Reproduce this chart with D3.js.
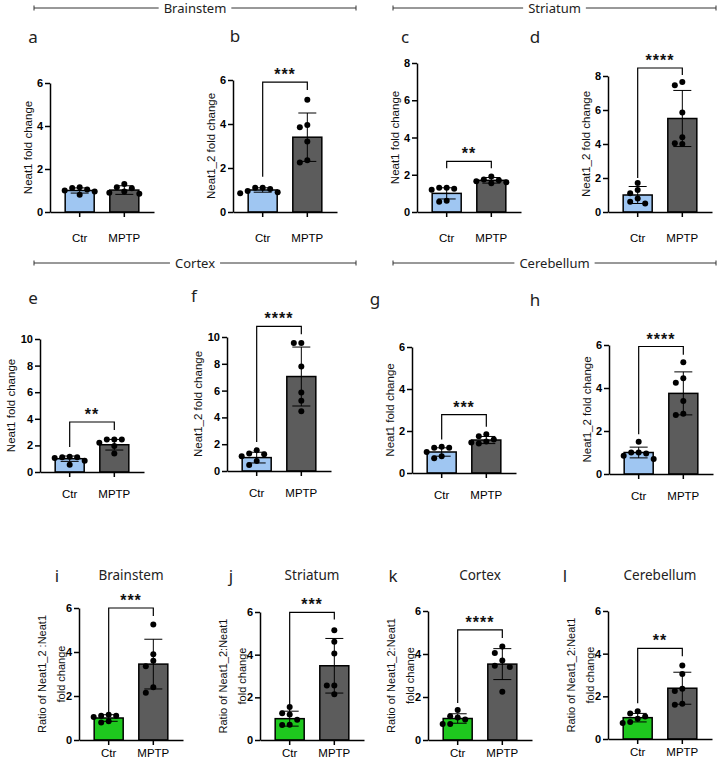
<!DOCTYPE html>
<html lang="en">
<head>
    <meta charset="UTF-8">
    <title>Neat1 / Neat1_2 fold change</title>
    <script src="https://d3js.org/d3.v7.min.js"></script>
    <style>
        body { margin: 0; background: #fff; }
        svg { display: block; }
        .head { font-family: "Noto Sans", sans-serif; }
    </style>
</head>
<body>
<div id="chart"></div>
<script>
    // ---- data ----
    const groups = ["Ctr", "MPTP"];
    const letters = ["a", "b", "c", "d", "e", "f", "g", "h", "i", "j", "k", "l"];
    const sections = ["Brainstem", "Striatum", "Cortex", "Cerebellum"];
    const ratioTitles = ["Brainstem", "Striatum", "Cortex", "Cerebellum"];
    const yTitles = [
        ["Neat1 fold change"], ["Neat1_2 fold change"], ["Neat1 fold change"], ["Neat1_2 fold change"],
        ["Neat1 fold change"], ["Neat1_2 fold change"], ["Neat1 fold change"], ["Neat1_2 fold change"],
        ["Ratio of Neat1_2 :Neat1", "fold change"], ["Ratio of Neat1_2:Neat1", "fold change"],
        ["Ratio of Neat1_2:Neat1", "fold change"], ["Ratio of Neat1_2:Neat1", "fold change"]
    ];
    const yMax = [6, 6, 8, 8, 10, 10, 6, 6, 6, 6, 6, 6];
    const yStep = 2;

    const meanCtr  = [1.0, 1.0, 1.0, 1.0, 1.0, 1.0, 1.0, 1.0, 1.0, 1.0, 1.0, 1.0];
    const sdCtr    = [0.12, 0.1, 0.3, 0.5, 0.2, 0.4, 0.2, 0.25, 0.15, 0.35, 0.22, 0.2];
    const meanMptp = [1.02, 3.4, 1.7, 5.5, 2.05, 7.05, 1.57, 3.75, 3.45, 3.48, 3.53, 2.38];
    const sdMptp   = [0.2, 1.1, 0.15, 1.65, 0.4, 2.2, 0.17, 1.0, 1.13, 1.28, 0.72, 0.75];

    const dotsCtr = [
        [1.15, 1.12, 1.0, 0.8, 0.95, 1.05],
        [1.1, 1.05, 1.1, 0.9, 0.85, 0.95],
        [1.3, 1.25, 1.3, 1.2, 0.6, 0.55],
        [1.7, 1.3, 1.1, 0.8, 0.6, 0.5],
        [1.15, 1.1, 1.1, 1.05, 0.85, 0.55],
        [1.55, 1.3, 1.25, 1.1, 0.75, 0.45],
        [1.25, 1.2, 1.2, 1.0, 0.8, 0.7],
        [1.5, 1.0, 1.0, 0.95, 0.85, 0.7],
        [1.15, 1.1, 1.1, 1.05, 0.85, 0.8],
        [1.55, 1.25, 1.2, 0.95, 0.72, 0.7],
        [1.4, 1.1, 1.05, 0.95, 0.75, 0.75],
        [1.3, 1.2, 1.05, 0.95, 0.8, 0.75]
    ];
    const dotsMptp = [
        [1.3, 1.15, 1.1, 0.85, 0.9, 0.95],
        [5.1, 3.95, 3.85, 3.2, 2.35, 2.25],
        [1.9, 1.75, 1.7, 1.65, 1.6, 1.55],
        [7.65, 7.45, 5.85, 4.4, 4.0, 4.05],
        [2.45, 2.45, 2.45, 2.2, 1.95, 1.4],
        [9.55, 9.55, 7.8, 5.85, 5.25, 4.45],
        [1.85, 1.75, 1.6, 1.5, 1.45, 1.4],
        [5.2, 4.45, 4.25, 3.4, 2.8, 2.75],
        [5.25, 3.9, 3.6, 3.35, 2.4, 2.15],
        [5.15, 4.6, 4.05, 2.55, 2.55, 2.15],
        [4.35, 4.05, 3.7, 3.45, 3.4, 2.25],
        [3.45, 3.05, 2.35, 2.25, 1.65, 1.6]
    ];

    // significance brackets: label, top, end of left leg, end of right leg (data units)
    const sigLabels  = [null, "***", "**", "****", "**", "****", "***", "****", "***", "***", "****", "**"];
    const sigTop     = [0, 5.9, 2.72, 8.47, 3.76, 10.8, 2.78, 5.93, 6.0, 5.98, 5.12, 4.25];
    const sigLeftEnd = [0, 1.6, 2.35, 2.0, 1.88, 2.16, 1.6, 1.85, 1.27, 1.17, 1.72, 1.68];
    const sigRightEnd= [0, 5.55, 2.35, 8.06, 3.16, 10.2, 2.2, 5.55, 5.64, 5.65, 4.74, 3.88];

    // ---- layout ----
    const W = 720, H = 764;
    const FONT = "'Liberation Sans', Arial, Helvetica, sans-serif";
    const panels = [
        { x: 50,  top: 83,  base: 212, lx: 33,  ly: 36,  pad: 17 },
        { x: 233, top: 80,  base: 212, lx: 235, ly: 35,  pad: 17 },
        { x: 417, top: 63,  base: 212, lx: 405, ly: 36,  pad: 17 },
        { x: 608, top: 76,  base: 212, lx: 535, ly: 36,  pad: 17 },
        { x: 40,  top: 339, base: 472, lx: 33,  ly: 297, pad: 13 },
        { x: 227, top: 337, base: 471, lx: 194, ly: 295, pad: 13 },
        { x: 412, top: 347, base: 473, lx: 375, ly: 298, pad: 13 },
        { x: 609, top: 345, base: 474, lx: 535, ly: 299, pad: 13 },
        { x: 79,  top: 608, base: 740, lx: 57,  ly: 575, pad: 4 },
        { x: 260, top: 612, base: 740, lx: 231, ly: 575, pad: 4 },
        { x: 428, top: 611, base: 740, lx: 393, ly: 575, pad: 4 },
        { x: 608, top: 611, base: 739, lx: 565, ly: 575, pad: 4 }
    ];
    const headers = [
        { x1: 34, x2: 356, y: 8 }, { x1: 393, x2: 716, y: 8 },
        { x1: 34, x2: 356, y: 263 }, { x1: 393, x2: 716, y: 263 }
    ];
    const blue = "#9fc6f2", green = "#1ec81e", grey = "#5c5c5c";

    const svg = d3.select("#chart").append("svg")
        .attr("width", W).attr("height", H);

    // section headers
    headers.forEach((h, i) => {
        const g = svg.append("g").attr("class", "head");
        const cx = (h.x1 + h.x2) / 2;
        const t = g.append("text")
            .attr("x", cx).attr("y", h.y)
            .attr("text-anchor", "middle")
            .attr("dominant-baseline", "central")
            .style("font-size", "13px")
            .style("fill", "#222")
            .text(sections[i]);
        const half = t.node().getComputedTextLength() / 2 + 5;
        g.append("line").attr("x1", h.x1).attr("x2", cx - half).attr("y1", h.y).attr("y2", h.y)
            .attr("stroke", "#333").attr("stroke-width", 1);
        g.append("line").attr("x1", cx + half).attr("x2", h.x2).attr("y1", h.y).attr("y2", h.y)
            .attr("stroke", "#333").attr("stroke-width", 1);
        [h.x1, h.x2].forEach(x => g.append("line")
            .attr("x1", x).attr("x2", x).attr("y1", h.y - 2.5).attr("y2", h.y + 2.5)
            .attr("stroke", "#333").attr("stroke-width", 1));
    });

    // simple beeswarm: spread dots that would overlap
    function swarm(values, y, cx, r) {
        const placed = [];
        const order = values.map((v, i) => i).sort((a, b) => values[b] - values[a]);
        order.forEach(i => {
            const py = y(values[i]);
            const steps = [0, -1, 1, -2, 2, -3, 3];
            for (const s of steps) {
                const px = cx + s * (2 * r + 1.5);
                if (placed.every(p => Math.hypot(p.x - px, p.y - py) >= 2 * r + 0.5)) {
                    placed.push({ x: px, y: py });
                    break;
                }
            }
        });
        return placed;
    }

    panels.forEach((p, i) => {
        const g = svg.append("g");
        const y = d3.scaleLinear().domain([0, yMax[i]]).range([p.base, p.top]);
        const x = d3.scaleBand().domain(groups).range([p.x, p.x + 104])
            .paddingInner(0.35).paddingOuter(0.34);
        const bw = x.bandwidth();

        // panel letter
        g.append("text").attr("class", "head")
            .attr("x", p.lx).attr("y", p.ly)
            .attr("text-anchor", "middle").attr("dominant-baseline", "central")
            .style("font-size", "17px").style("fill", "#222")
            .text(letters[i]);

        // ratio panel titles
        if (i >= 8) {
            g.append("text").attr("class", "head")
                .attr("x", x("Ctr") + bw / 2 + (x("MPTP") - x("Ctr")) / 2)
                .attr("y", p.ly)
                .attr("text-anchor", "middle").attr("dominant-baseline", "central")
                .style("font-size", "13.5px").style("fill", "#222")
                .text(ratioTitles[i - 8]);
        }

        const means = [meanCtr[i], meanMptp[i]];
        const sds = [sdCtr[i], sdMptp[i]];
        const dots = [dotsCtr[i], dotsMptp[i]];
        const fills = [i >= 8 ? green : blue, grey];

        // bars
        groups.forEach((grp, k) => {
            g.append("rect")
                .attr("x", x(grp)).attr("width", bw)
                .attr("y", y(means[k])).attr("height", y(0) - y(means[k]))
                .attr("fill", fills[k]).attr("stroke", "#000").attr("stroke-width", 1.5);
        });

        // error bars (mean +/- SD)
        groups.forEach((grp, k) => {
            const cx = x(grp) + bw / 2;
            const lo = y(means[k] - sds[k]), hi = y(means[k] + sds[k]);
            g.append("line").attr("x1", cx).attr("x2", cx).attr("y1", lo).attr("y2", hi)
                .attr("stroke", "#000").attr("stroke-width", 1);
            [lo, hi].forEach(yy => g.append("line")
                .attr("x1", cx - 9).attr("x2", cx + 9).attr("y1", yy).attr("y2", yy)
                .attr("stroke", "#000").attr("stroke-width", 1));
        });

        // dots
        groups.forEach((grp, k) => {
            const cx = x(grp) + bw / 2;
            g.selectAll(null).data(swarm(dots[k], y, cx, 3)).enter()
                .append("circle")
                .attr("cx", d => d.x).attr("cy", d => d.y).attr("r", 3)
                .attr("fill", "#000");
        });

        // axes
        const ticks = d3.range(0, yMax[i] + 0.001, yStep);
        g.append("g")
            .attr("transform", `translate(${p.x},0)`)
            .call(d3.axisLeft(y).tickValues(ticks).tickSize(5).tickSizeOuter(0).tickPadding(2).tickFormat(d3.format("d")))
            .call(a => a.selectAll("path, line").attr("stroke", "#000").attr("stroke-width", 1.5))
            .call(a => a.selectAll("text").attr("fill", "#000")
                .attr("font-family", FONT).attr("font-size", 11).attr("font-weight", "bold"));

        g.append("g")
            .attr("transform", `translate(0,${p.base})`)
            .call(d3.axisBottom(x).tickSize(5).tickSizeOuter(0).tickPadding(p.pad))
            .call(a => a.selectAll("path, line").attr("stroke", "#000").attr("stroke-width", 1.5))
            .call(a => a.selectAll("text").attr("fill", "#000")
                .attr("font-family", FONT).attr("font-size", 11.5));

        // y title
        const lines = yTitles[i];
        const digits = String(yMax[i]).length;
        const off = lines.length > 1 ? [-37, -18] : [-22 - 7 * (digits - 1)];
        const ymid = (p.top + p.base) / 2;
        lines.forEach((ln, j) => {
            g.append("text")
                .attr("transform", `translate(${p.x + off[j]},${ymid}) rotate(-90)`)
                .attr("text-anchor", "middle").attr("dominant-baseline", "central")
                .attr("font-family", FONT)
                .attr("font-size", lines.length > 1 ? 11 : 11.5)
                .attr("fill", "#111")
                .text(ln);
        });

        // significance bracket
        if (sigLabels[i]) {
            const xl = x("Ctr") + bw / 2, xr = x("MPTP") + bw / 2;
            const yt = y(sigTop[i]);
            g.append("path")
                .attr("d", `M${xl},${y(sigLeftEnd[i])}V${yt}H${xr}V${y(sigRightEnd[i])}`)
                .attr("fill", "none").attr("stroke", "#000").attr("stroke-width", 1.2);
            g.append("text")
                .attr("x", (xl + xr) / 2).attr("y", yt - 2)
                .attr("text-anchor", "middle")
                .attr("font-family", FONT)
                .attr("font-size", 16).attr("font-weight", "bold")
                .attr("letter-spacing", 1)
                .attr("fill", "#111")
                .text(sigLabels[i]);
        }
    });
</script>
</body>
</html>
